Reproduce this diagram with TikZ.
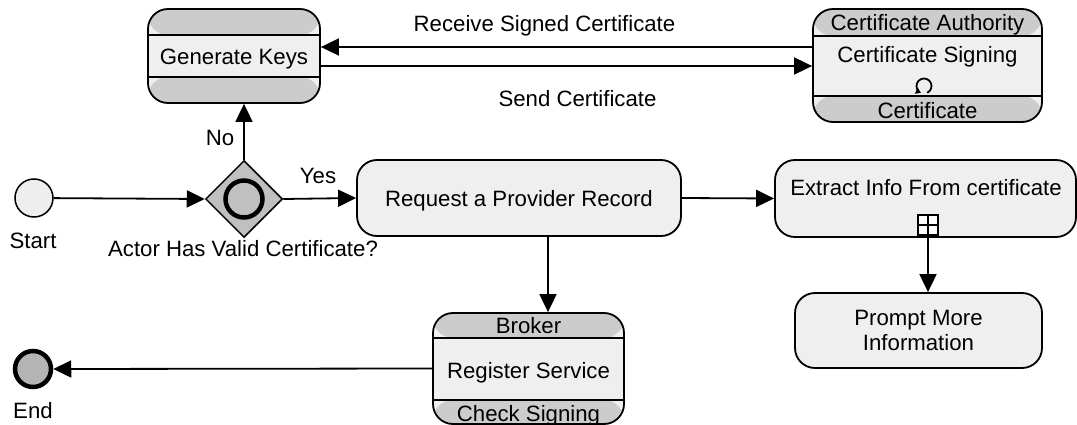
\documentclass[tikz,border=0pt]{standalone}
\usepackage{fontspec}
\setmainfont{Liberation Sans}
\usetikzlibrary{arrows.meta,shapes.geometric,calc}
\definecolor{bodyfill}{HTML}{EFEFEF}
\definecolor{bandfill}{HTML}{CCCCCC}
\definecolor{gatefill}{HTML}{C0C0C0}
\definecolor{endfill}{HTML}{B4B4B4}
\definecolor{startfill}{HTML}{EEEEEE}
\begin{document}
\begin{tikzpicture}[x=1pt,y=-1pt,
  font=\fontsize{22.2}{25}\selectfont,
  box/.style={draw, line width=1.8pt, rounded corners=20pt, fill=bodyfill,
    inner sep=0pt, align=center},
  task/.style={box, text height=18.5pt, text depth=1pt},
  bands/.style n args={2}{path picture={
    \fill[bandfill] (path picture bounding box.north west) rectangle
      ([yshift=-#1pt]path picture bounding box.north east);
    \fill[bandfill] (path picture bounding box.south west) rectangle
      ([yshift=#2pt]path picture bounding box.south east);
    \draw[line width=1.5pt] ([yshift=-#1pt]path picture bounding box.north west) --
      ([yshift=-#1pt]path picture bounding box.north east);
    \draw[line width=1.5pt] ([yshift=#2pt]path picture bounding box.south west) --
      ([yshift=#2pt]path picture bounding box.south east);
  }},
  lbl/.style={inner sep=0pt, anchor=center, text height=18.5pt, text depth=1pt},
  flow/.style={line width=1.8pt, -{Triangle[length=18pt,width=17pt]}},
]
\useasboundingbox (0,0) rectangle (1077,425);

% helper ordinates for parallel and offset connectors
\coordinate (recvY) at (0,47);
\coordinate (sendY) at (0,66);
\coordinate (brokerIn) at (548,0);

% activities
\node[task, bands={26}{26}, minimum width=172pt, minimum height=94pt] (GK) at (234,56) {Generate Keys};

\node[task, bands={27}{26}, minimum width=229pt, minimum height=113pt] (CA) at (927.5,65.5) {};
\node[lbl] (caHead) at ($(CA.north)+(0,13.5)$) {Certificate Authority};
\node[lbl] (caBody) at ($(CA.north)+(0,46)$) {Certificate Signing};
\node[lbl] (caFoot) at ($(CA.south)+(0,-13)$) {Certificate};
% loop marker
\coordinate (loopC) at (924,86);
\draw[line width=1.8pt, -{Triangle[length=5pt,width=6.5pt]}] ($(loopC)+(65:7.5)$) arc (65:-245:7.5);

\node[task, minimum width=324pt, minimum height=76pt] (Req) at (519,198) {Request a Provider Record};

\node[task, minimum width=301pt, minimum height=77pt] (Ext) at (925.5,198.5) {};
\node[lbl] (extText) at (926,187) {Extract Info From certificate};
\node[draw, line width=1.4pt, fill=white, minimum size=20pt, inner sep=0pt] (extPlus) at (928,225) {};
\draw[line width=1.4pt] ([yshift=-2pt]extPlus.north) -- ([yshift=2pt]extPlus.south);
\draw[line width=1.4pt] ([xshift=2pt]extPlus.west) -- ([xshift=-2pt]extPlus.east);

\node[box, minimum width=247pt, minimum height=75pt] (Prompt) at (918.5,330.5) {Prompt More\\Information};

\node[task, bands={25}{24}, minimum width=191pt, minimum height=111pt] (Broker) at (528.5,368.5) {};
\node[lbl] (brHead) at ($(Broker.north)+(0,12.5)$) {Broker};
\node[lbl] (brBody) at (528.5,370) {Register Service};
\node[lbl] (brFoot) at ($(Broker.south)+(0,-12)$) {Check Signing};

% events and gateway
\node[circle, draw, line width=1.5pt, fill=startfill, minimum size=38pt, inner sep=0pt] (Start) at (34,198) {};
\node[lbl] (startLbl) at (33,240) {Start};

\node[diamond, draw, line width=1.5pt, fill=gatefill, minimum width=77pt, minimum height=77pt, inner sep=0pt] (Gate) at (244,199) {};
\node[circle, draw, line width=4.5pt, fill=gatefill, minimum size=37pt, inner sep=0pt] (GateRing) at (Gate) {};
\node[lbl] (gateLbl) at (243,248) {Actor Has Valid Certificate?};

\node[circle, draw, line width=4.5pt, fill=endfill, minimum size=36pt, inner sep=0pt] (End) at (33,369) {};
\node[lbl] (endLbl) at (33,410) {End};

% connector labels
\node[lbl] (noLbl) at (220,137) {No};
\node[lbl] (yesLbl) at (318,175) {Yes};
\node[lbl] (recvLbl) at (544.5,23) {Receive Signed Certificate};
\node[lbl] (sendLbl) at (577.5,98) {Send Certificate};

% sequence flows
\draw[flow] (Start) -- (Gate.west);
\draw[flow] (Gate.east) -- (Req.west);
\draw[flow] (Gate.north) -- (Gate.north |- GK.south);
\draw[flow] (CA.west |- recvY) -- (GK.east |- recvY);
\draw[flow] (GK.east |- sendY) -- (CA.west |- sendY);
\draw[flow] (Req.east) -- (Ext.west);
\draw[flow] (Req.south -| brokerIn) -- (Broker.north -| brokerIn);
\draw[flow] (extPlus.south) -- (Prompt.north -| extPlus.south);
\draw[flow] (Broker.west) -- (End.east);
\end{tikzpicture}
\end{document}
